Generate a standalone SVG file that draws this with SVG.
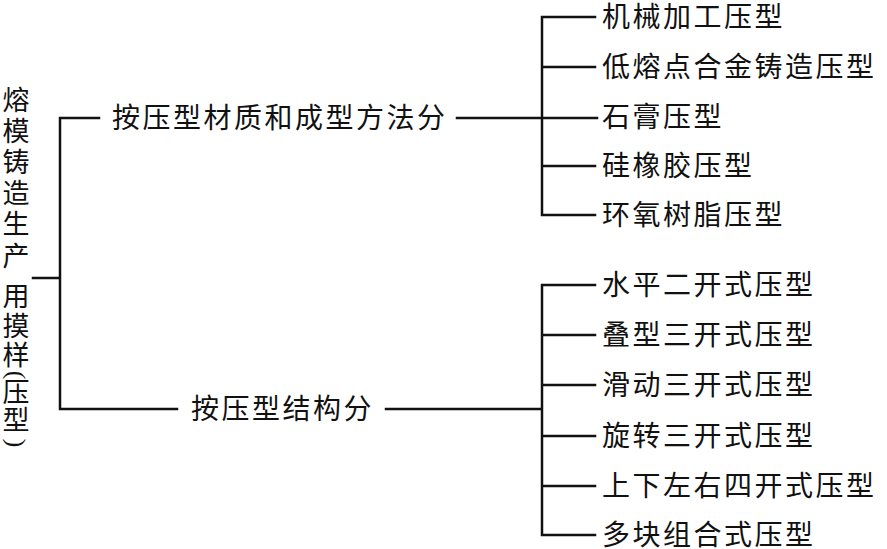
<svg xmlns="http://www.w3.org/2000/svg" width="887" height="549" viewBox="0 0 887 549">
<style>
.t{font-family:"Liberation Serif","Noto Sans CJK SC",serif;font-size:28px;fill:#111;letter-spacing:2.5px;dominant-baseline:central}
.v{font-family:"Liberation Serif","Noto Sans CJK SC",serif;font-size:27px;fill:#111;text-anchor:middle;dominant-baseline:central}
.p{font-family:"Liberation Serif","Noto Sans CJK SC",serif;font-size:26px;fill:#111;text-anchor:middle;dominant-baseline:central}
.c{stroke:#111;stroke-width:2.5;fill:none;stroke-linecap:square}
</style>
<rect width="887" height="549" fill="#fff"/>
<g id="connectors" class="c">
<path d="M33 278H60M60 118V409M60 118H99M60 409H177"/>
<path d="M457 118H597M542 17V215M542 17H595M542 67H595M542 166H595M542 215H595"/>
<path d="M386 409H542M542 285V535M542 285H595M542 335H595M542 385H595M542 436H595M542 486H595M542 535H595"/>
</g>
<g id="root">
<text class="v"><tspan x="16" y="101">熔</tspan><tspan x="16" y="132">模</tspan><tspan x="16" y="163">铸</tspan><tspan x="16" y="194">造</tspan><tspan x="16" y="225">生</tspan><tspan x="16" y="257">产</tspan><tspan x="16" y="297">用</tspan><tspan x="16" y="327">摸</tspan><tspan x="16" y="356">样</tspan><tspan x="16" y="393">压</tspan><tspan x="16" y="421">型</tspan></text>
<text class="p" x="16" y="375" transform="rotate(90 16 375)">(</text>
<text class="p" x="16" y="443" transform="rotate(90 16 443)">)</text>
</g>
<g id="n-material"><text class="t" x="112" y="118">按压型材质和成型方法分</text></g>
<g id="n-structure"><text class="t" x="191" y="409">按压型结构分</text></g>
<g id="m1"><text class="t" x="602" y="17">机械加工压型</text></g>
<g id="m2"><text class="t" x="602" y="67">低熔点合金铸造压型</text></g>
<g id="m3"><text class="t" x="602" y="117">石膏压型</text></g>
<g id="m4"><text class="t" x="602" y="166">硅橡胶压型</text></g>
<g id="m5"><text class="t" x="602" y="215">环氧树脂压型</text></g>
<g id="s1"><text class="t" x="602" y="285">水平二开式压型</text></g>
<g id="s2"><text class="t" x="602" y="335">叠型三开式压型</text></g>
<g id="s3"><text class="t" x="602" y="385">滑动三开式压型</text></g>
<g id="s4"><text class="t" x="602" y="436">旋转三开式压型</text></g>
<g id="s5"><text class="t" x="602" y="486">上下左右四开式压型</text></g>
<g id="s6"><text class="t" x="602" y="535">多块组合式压型</text></g>
</svg>
